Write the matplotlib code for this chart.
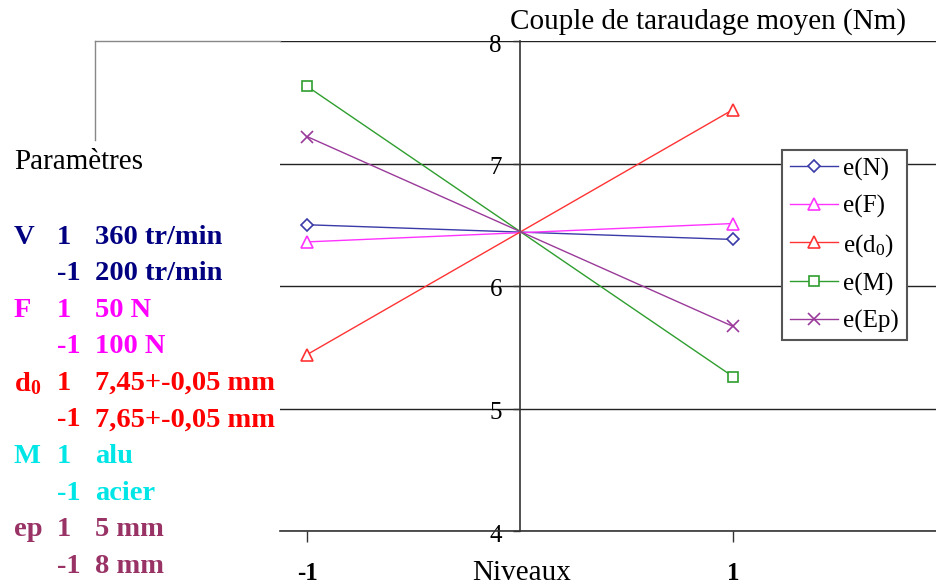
import matplotlib
matplotlib.use("Agg")
import matplotlib.pyplot as plt
from matplotlib.lines import Line2D
import matplotlib.transforms as mtransforms

plt.rcParams["font.family"] = ["Liberation Serif", "DejaVu Serif"]
plt.rcParams["mathtext.fontset"] = "custom"
plt.rcParams["mathtext.rm"] = "Liberation Serif"
plt.rcParams["mathtext.it"] = "Liberation Serif:italic"
plt.rcParams["mathtext.bf"] = "Liberation Serif:bold"

# Levels and mean tapping torque per factor
niveaux = [-1, 1]
series_names = ["e(N)", "e(F)", r"e(d$_0$)", "e(M)", "e(Ep)"]
e_N = [6.50, 6.38]
e_F = [6.36, 6.51]
e_d0 = [5.44, 7.44]
e_M = [7.63, 5.26]
e_Ep = [7.22, 5.67]
series_values = [e_N, e_F, e_d0, e_M, e_Ep]
series_colors = ["#3a3aa8", "#ff33ff", "#ff3333", "#2e9e2e", "#9a3a9a"]
series_markers = ["D", "^", "^", "s", "x"]
series_msize = [6, 8, 8, 7, 8]

y_ticks = [4, 5, 6, 7, 8]
x_ticklabels = ["-1", "1"]

W, H = 936, 586
fig = plt.figure(figsize=(W / 100, H / 100), dpi=100)
ax = fig.add_axes([280 / W, (H - 531) / H, (W - 280) / W, (531 - 41) / H])

for vals, name, col, mk, ms in zip(series_values, series_names, series_colors,
                                   series_markers, series_msize):
    ax.plot(niveaux, vals, color=col, lw=1, marker=mk, markersize=ms,
            markerfacecolor="white", markeredgecolor=col, markeredgewidth=1.2,
            label=name, zorder=3)

for s in ["top", "right"]:
    ax.spines[s].set_visible(False)
ax.spines["left"].set_position(("data", 0))
ax.spines["left"].set_color("#333333")
ax.spines["bottom"].set_color("#333333")
ax.spines["left"].set_linewidth(1.2)
ax.spines["bottom"].set_linewidth(1.2)

ax.set_xlim(-1.127, 1.953)
ax.set_ylim(4, 8)
ax.set_yticks(y_ticks)
ax.set_yticklabels([str(v) for v in y_ticks])
ax.set_xticks(niveaux)
ax.set_xticklabels(x_ticklabels)

ax.yaxis.grid(True, color="#222222", lw=1)
ax.set_axisbelow(True)
ax.tick_params(axis="y", direction="out", length=5, width=1, pad=8,
               color="#333333", labelsize=18)
ax.tick_params(axis="x", direction="out", length=8, width=1, pad=14,
               color="#333333", labelsize=18)
for lbl in ax.get_xticklabels():
    lbl.set_fontweight("bold")
# nudge the level labels slightly below their gridlines
shift = mtransforms.ScaledTranslation(0, -2 / 100, fig.dpi_scale_trans)
for lbl in ax.get_yticklabels():
    lbl.set_transform(lbl.get_transform() + shift)

# top gray line at level 8 carried to the left and down
fig.add_artist(Line2D([95 / W, 280 / W], [1 - 41 / H, 1 - 41 / H], color="#888888", lw=1))
fig.add_artist(Line2D([95 / W, 95 / W], [1 - 41 / H, 1 - 140 / H], color="#888888", lw=1))

fig.text(510 / W, 1 - 22 / H, "Couple de taraudage moyen (Nm)", fontsize=21,
         ha="left", va="center")
fig.text(522 / W, 1 - 573 / H, "Niveaux", fontsize=21, ha="center", va="center")

leg = ax.legend(loc="upper left", bbox_to_anchor=(782 / W, 1 - 150 / H),
                bbox_transform=fig.transFigure, fontsize=18, frameon=True,
                fancybox=False, edgecolor="#555555", handlelength=1.95,
                handletextpad=0.2, labelspacing=0.56, borderpad=0.3,
                borderaxespad=0)
leg.get_frame().set_linewidth(1.5)
leg.get_frame().set_alpha(1)

# parameter key on the left
fig.text(14 / W, 1 - 162 / H, "Paramètres", fontsize=21, ha="left", va="center")

rows = [
    ("V", "1", "360 tr/min", "#000080"),
    ("", "-1", "200 tr/min", "#000080"),
    ("F", "1", "50 N", "#ff00ff"),
    ("", "-1", "100 N", "#ff00ff"),
    (r"d$_\mathbf{0}$", "1", "7,45+-0,05 mm", "#ff0000"),
    ("", "-1", "7,65+-0,05 mm", "#ff0000"),
    ("M", "1", "alu", "#00e5e5"),
    ("", "-1", "acier", "#00e5e5"),
    ("ep", "1", "5 mm", "#993366"),
    ("", "-1", "8 mm", "#993366"),
]
y0 = 237
dy = 36.6
for i, (lab, lvl, val, col) in enumerate(rows):
    yy = 1 - (y0 + i * dy) / H
    if lab:
        fig.text(14 / W, yy, lab, fontsize=20.5, fontweight="bold", color=col,
                 ha="left", va="center")
    fig.text(57 / W, yy, lvl, fontsize=20.5, fontweight="bold", color=col,
             ha="left", va="center")
    fig.text(95 / W, yy, val, fontsize=20.5, fontweight="bold", color=col,
             ha="left", va="center")

fig.savefig("out.png", dpi=100)
